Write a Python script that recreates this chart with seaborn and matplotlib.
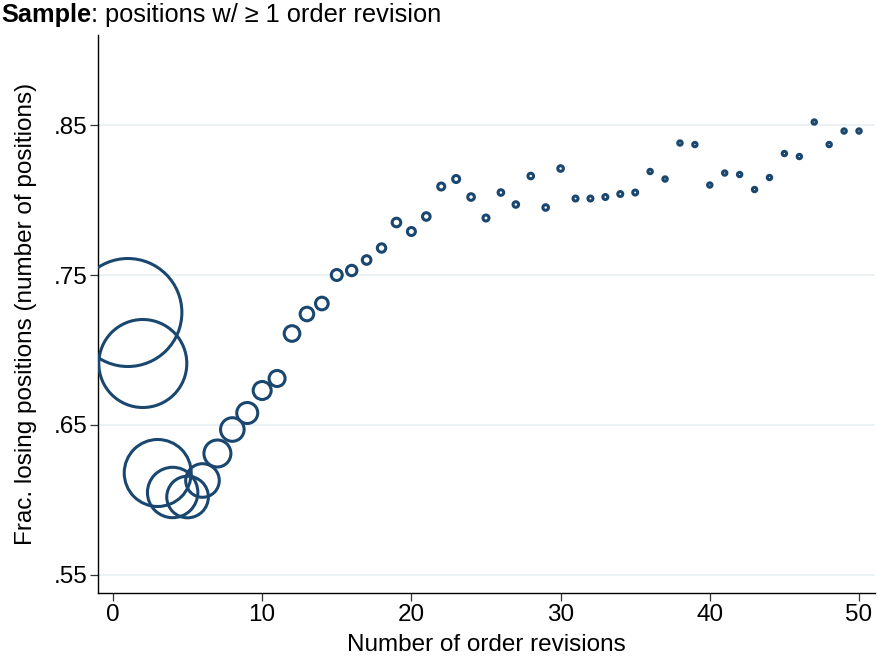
import numpy as np
import pandas as pd
import matplotlib
matplotlib.use("Agg")
import matplotlib.pyplot as plt
import seaborn as sns
from matplotlib.ticker import FuncFormatter

# Number of order revisions (x)
revisions = list(range(1, 51))

# Fraction of positions that lose money (y)
frac_losing = [
    0.725, 0.691, 0.618, 0.605, 0.602, 0.613, 0.631, 0.647, 0.658, 0.673,
    0.681, 0.711, 0.724, 0.731, 0.750, 0.753, 0.760, 0.768, 0.785, 0.779,
    0.789, 0.809, 0.814, 0.802, 0.788, 0.805, 0.797, 0.816, 0.795, 0.821,
    0.801, 0.801, 0.802, 0.804, 0.805, 0.819, 0.814, 0.838, 0.837, 0.810,
    0.818, 0.817, 0.807, 0.815, 0.831, 0.829, 0.852, 0.837, 0.846, 0.846,
]

# Number of positions (marker weight, relative units)
n_positions = [
    2916, 1936, 1122, 635, 433, 282, 182, 139, 110, 81,
    64, 61, 46, 40, 30, 27, 18.5, 17.6, 18.5, 16,
    14.4, 12.2, 12.2, 10.9, 9, 7.8, 7.8, 7.8, 7.8, 7.8,
    6.2, 6.2, 6.2, 6.2, 6.2, 4.8, 4.8, 4.8, 4.8, 4.8,
    4.8, 4.8, 4.8, 4.8, 4.8, 4.8, 4.8, 4.8, 4.8, 4.8,
]

df = pd.DataFrame({"revisions": revisions, "frac": frac_losing, "n": n_positions})

navy = "#1a476f"
grid_col = "#eaf2f3"

sns.set_style("white")
plt.rcParams["font.family"] = ["Liberation Sans", "DejaVu Sans"]
plt.rcParams["text.color"] = "black"
plt.rcParams["axes.labelcolor"] = "black"
plt.rcParams["xtick.color"] = "black"
plt.rcParams["ytick.color"] = "black"

fig = plt.figure(figsize=(8.77, 6.61), dpi=100)
ax = fig.add_axes([0.1117, 0.1029, 0.8860, 0.8441])

# marker area proportional to the number of positions
wmax = max(n_positions)
smax = 2.0736 * wmax
sns.scatterplot(data=df, x="revisions", y="frac", size="n",
                sizes=(0, smax), size_norm=(0, wmax),
                color=navy, facecolor="none", edgecolor=navy,
                linewidth=2.2, legend=False, ax=ax, zorder=3)

ax.set_xlim(-1.005, 51.07)
ax.set_ylim(0.538, 0.91)
ax.set_xticks([0, 10, 20, 30, 40, 50])
ax.set_yticks([0.55, 0.65, 0.75, 0.85])
ax.yaxis.set_major_formatter(FuncFormatter(lambda v, p: f"{v:.2f}".lstrip("0")))

for yv in [0.55, 0.65, 0.75, 0.85]:
    ax.axhline(yv, color=grid_col, lw=1.5, zorder=1)

for s in ["top", "right"]:
    ax.spines[s].set_visible(False)
for s in ["left", "bottom"]:
    ax.spines[s].set_color("black")
    ax.spines[s].set_linewidth(1.0)

ax.tick_params(axis="both", direction="out", length=5.8, width=0.9,
               color="#333333", labelcolor="black", labelsize=17.5, pad=2,
               left=True, bottom=True)
ax.set_xlabel("Number of order revisions", fontsize=17.5, labelpad=6)
ax.set_ylabel("Frac. losing positions (number of positions)", fontsize=17.5, labelpad=12)

t1 = fig.text(0.001, 1 - 15 / 661, "Sample", fontsize=18.3, fontweight="bold",
              ha="left", va="center", color="black")
fig.canvas.draw()
ax.annotate(": positions w/ \u2265 1 order revision", xy=(1, 0), xycoords=t1,
            fontsize=18.3, ha="left", va="bottom", color="black",
            annotation_clip=False)

fig.savefig("out.png", dpi=100)
